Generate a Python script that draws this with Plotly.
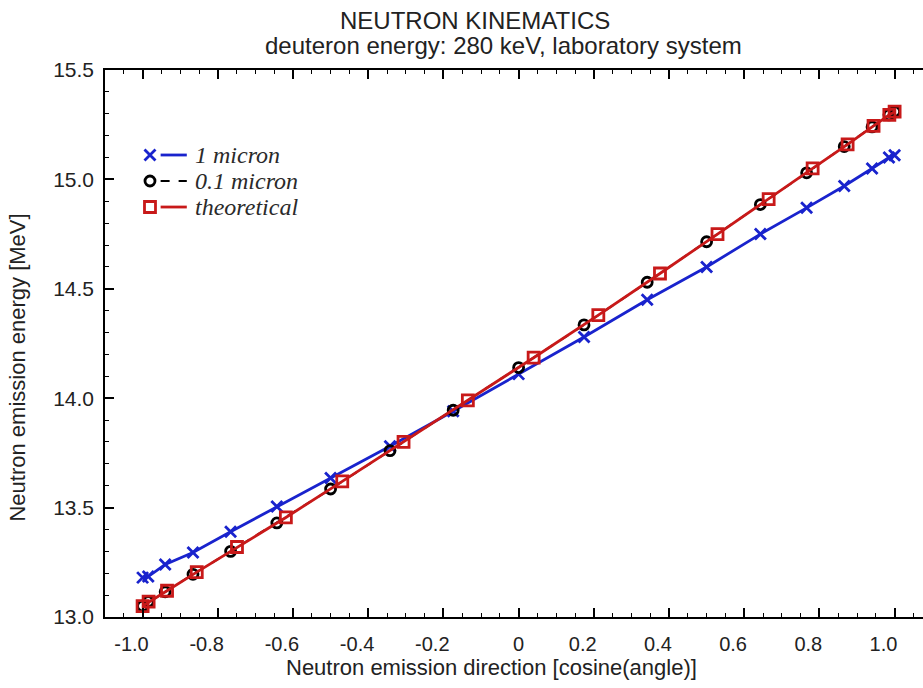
import plotly.graph_objects as go

# Neutron emission direction (cosine of the lab angle) and energy [MeV]
cos_1micron = [1.000, 0.985, 0.940, 0.866, 0.766, 0.643, 0.500, 0.342, 0.174, 0.000,
               -0.174, -0.342, -0.500, -0.643, -0.766, -0.866, -0.940, -0.985, -1.000]
e_1micron = [15.11, 15.10, 15.05, 14.97, 14.87, 14.75, 14.60, 14.45, 14.28, 14.11,
             13.94, 13.78, 13.635, 13.505, 13.39, 13.295, 13.24, 13.185, 13.18]

cos_01micron = [1.000, 0.985, 0.940, 0.866, 0.766, 0.643, 0.500, 0.342, 0.174, 0.000,
                -0.174, -0.342, -0.500, -0.643, -0.766, -0.866, -0.940, -0.985, -1.000]
e_01micron = [15.31, 15.295, 15.24, 15.15, 15.03, 14.885, 14.715, 14.53, 14.335, 14.14,
              13.945, 13.76, 13.585, 13.43, 13.30, 13.195, 13.115, 13.07, 13.05]

cos_theory = [1.000, 0.986, 0.944, 0.875, 0.782, 0.665, 0.529, 0.376, 0.212, 0.040,
              -0.135, -0.306, -0.469, -0.619, -0.749, -0.856, -0.935, -0.984, -1.000]
e_theory = [15.31, 15.295, 15.245, 15.16, 15.05, 14.91, 14.75, 14.57, 14.38, 14.185,
            13.99, 13.80, 13.62, 13.455, 13.32, 13.205, 13.12, 13.07, 13.05]

series_names = ["1 micron", "0.1 micron", "theoretical"]

x_tickvals = [-1.0, -0.8, -0.6, -0.4, -0.2, 0.0, 0.2, 0.4, 0.6, 0.8, 1.0]
x_ticktext = ["-1.0", "-0.8", "-0.6", "-0.4", "-0.2", "0", "0.2", "0.4", "0.6", "0.8", "1.0"]
y_tickvals = [13.0, 13.5, 14.0, 14.5, 15.0, 15.5]

BLUE = "rgb(25,35,205)"
RED = "rgb(200,25,25)"
SANS = "Liberation Sans, Arial, sans-serif"
SERIF = "Liberation Serif, Times New Roman, serif"
NBSP = "\u00a0"

# non-zero labels sit slightly left of their tick marks
x_ticklabels = [t if t == "0" else t + NBSP * 4 for t in x_ticktext]

styles = [
    dict(line=dict(color=BLUE, width=2.8),
         marker=dict(symbol="x-thin-open", size=11, color=BLUE, line=dict(color=BLUE, width=2.8))),
    dict(line=dict(color="black", width=2, dash="dash"),
         marker=dict(symbol="circle-open", size=10, color="black", line=dict(color="black", width=2.8))),
    dict(line=dict(color=RED, width=2.8),
         marker=dict(symbol="square-open", size=11, color=RED, line=dict(color=RED, width=2.8))),
]

fig = go.Figure()
for xs, ys, name, st in zip([cos_1micron, cos_01micron, cos_theory],
                            [e_1micron, e_01micron, e_theory], series_names, styles):
    fig.add_trace(go.Scatter(x=xs, y=ys, mode="lines+markers", name=name,
                             showlegend=False, **st))

# Key: symbol, short line sample, italic label (drawn on a hidden 0..1 overlay axis)
key_rows = [0.8446, 0.7971, 0.7495]
key_marker_x = 0.055
key_line_x = [0.068, 0.100]
annotations = []
for row, name, st in zip(key_rows, series_names, styles):
    fig.add_trace(go.Scatter(x=[key_marker_x], y=[row], mode="markers", marker=st["marker"],
                             xaxis="x2", yaxis="y2", showlegend=False, hoverinfo="skip"))
    fig.add_trace(go.Scatter(x=key_line_x, y=[row, row], mode="lines", line=st["line"],
                             xaxis="x2", yaxis="y2", showlegend=False, hoverinfo="skip"))
    annotations.append(dict(text=f"<i>{name}</i>", xref="paper", yref="paper",
                            x=0.108, y=row, xanchor="left", yanchor="middle", showarrow=False,
                            font=dict(family=SERIF, size=24, color="#2a2a2a")))

annotations += [
    dict(text="NEUTRON KINEMATICS", xref="paper", yref="paper", x=0.452, y=1.0914,
         xanchor="center", yanchor="middle", showarrow=False,
         font=dict(family=SANS, size=24, color="#222")),
    dict(text="deuteron energy: 280 keV, laboratory system", xref="paper", yref="paper",
         x=0.4866, y=1.0439, xanchor="center", yanchor="middle", showarrow=False,
         font=dict(family=SANS, size=24, color="#222")),
    dict(text="Neutron emission direction [cosine(angle)]", xref="paper", yref="paper",
         x=0.4725, y=-0.0932, xanchor="center", yanchor="middle", showarrow=False,
         font=dict(family=SANS, size=22, color="#222")),
    dict(text="Neutron emission energy [MeV]", xref="paper", yref="paper",
         x=-0.1064, y=0.456, xanchor="center", yanchor="middle", textangle=-90,
         showarrow=False, font=dict(family=SANS, size=22, color="#222")),
]

fig.update_layout(
    width=923, height=688,
    margin=dict(l=105, r=0, t=70, b=71),
    paper_bgcolor="white", plot_bgcolor="white",
    font=dict(family=SANS, size=20, color="#222"),
    showlegend=False,
    xaxis=dict(
        range=[-1.1, 1.0755], tickvals=x_tickvals, ticktext=x_ticklabels,
        showgrid=False, zeroline=False,
        showline=True, linecolor="black", linewidth=1.5, mirror="allticks",
        ticks="inside", ticklen=9, tickwidth=1.5, tickcolor="black",
        ticklabelstandoff=8,
        tickfont=dict(family=SANS, size=20, color="#222"),
        minor=dict(dtick=0.05, tick0=0, ticks="inside", ticklen=4, tickwidth=1.2, tickcolor="black"),
    ),
    yaxis=dict(
        range=[13.0, 15.5], tickvals=y_tickvals, tickformat=".1f",
        showgrid=False, zeroline=False,
        showline=True, linecolor="black", linewidth=1.5, mirror=False,
        ticks="inside", ticklen=9, tickwidth=1.5, tickcolor="black",
        ticklabelstandoff=5,
        tickfont=dict(family=SANS, size=21, color="#222"),
        minor=dict(dtick=0.1, tick0=13.0, ticks="inside", ticklen=4, tickwidth=1.2, tickcolor="black"),
    ),
    xaxis2=dict(range=[0, 1], overlaying="x", anchor="y2", visible=False, fixedrange=True),
    yaxis2=dict(range=[0, 1], overlaying="y", anchor="x2", visible=False, fixedrange=True),
    annotations=annotations,
)

fig.write_html("out.html")
